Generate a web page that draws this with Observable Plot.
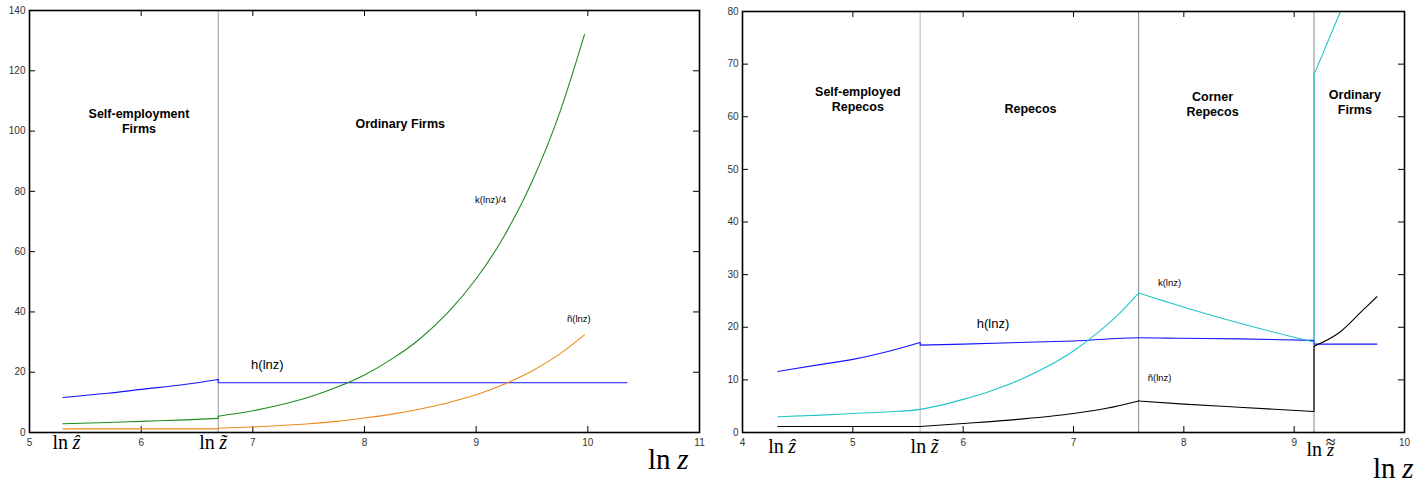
<!DOCTYPE html>
<html><head><meta charset="utf-8">
<script src="https://cdn.jsdelivr.net/npm/d3@7"></script>
<script src="https://cdn.jsdelivr.net/npm/@observablehq/plot@0.6"></script>
<style>
body{margin:0;background:#fff;}
#wrap{position:relative;width:1425px;height:483px;overflow:hidden;background:#fff;}
#left{position:absolute;left:0;top:0;}
#right{position:absolute;left:712px;top:0;}
svg{overflow:visible}
</style></head><body><div id="wrap"><div id="left"></div><div id="right"></div></div>
<script>
// ---------- Left panel data ----------
const leftXTicks = [5, 6, 7, 8, 9, 10, 11];
const leftYTicks = [0, 20, 40, 60, 80, 100, 120, 140];
const leftBoundaries = [6.69];
const leftHx = [5.3, 5.7, 6.0, 6.4, 6.69, 6.69, 10.35];
const leftHy = [11.6, 13.0, 14.3, 16.0, 17.6, 16.5, 16.5];
const leftKx = [5.3, 5.7, 6.0, 6.4, 6.69, 6.69, 7.0, 7.25, 7.5, 7.75, 8.0, 8.25, 8.5, 8.75, 9.0, 9.25, 9.5, 9.75, 9.97];
const leftKy = [2.9, 3.3, 3.7, 4.2, 4.7, 5.4, 7.2, 9.2, 11.7, 15.0, 19.1, 24.5, 31.2, 39.9, 51.0, 65.1, 83.2, 106.3, 132];
const leftNx = [5.3, 5.7, 6.0, 6.4, 6.69, 6.69, 7.0, 7.25, 7.5, 7.75, 8.0, 8.25, 8.5, 8.75, 9.0, 9.25, 9.5, 9.75, 9.97];
const leftNy = [1.2, 1.2, 1.2, 1.2, 1.2, 1.4, 1.8, 2.3, 2.9, 3.7, 4.8, 6.1, 7.8, 9.9, 12.5, 16.0, 20.4, 26.1, 32.4];
const leftRegions = [
  {x: 5.98, y: 103.3, label: "Self-employment\nFirms"},
  {x: 8.32, y: 102.5, label: "Ordinary Firms"}
];
const leftCurveBig = [{x: 7.13, y: 22.5, label: "h(lnz)"}];
const leftCurveSmall = [{x: 9.13, y: 77, label: "k(lnz)/4"}, {x: 9.92, y: 37.8, label: "ñ(lnz)"}];
const leftMarkers = [{x: 5.3, sym: "ẑ", stacked: false}, {x: 6.69, sym: "z\u0303", stacked: false}];

// ---------- Right panel data ----------
const rightXTicks = [4, 5, 6, 7, 8, 9, 10];
const rightYTicks = [0, 10, 20, 30, 40, 50, 60, 70, 80];
const rightBoundaries = [5.61, 7.59, 9.18];
const rightHx = [4.32, 4.7, 5.0, 5.3, 5.61, 5.61, 6.0, 6.5, 7.0, 7.59, 8.0, 8.5, 9.18, 9.18, 9.75];
const rightHy = [11.6, 12.9, 13.9, 15.3, 17.1, 16.6, 16.8, 17.1, 17.4, 18.0, 17.9, 17.8, 17.5, 16.8, 16.8];
const rightKx = [4.32, 4.7, 5.0, 5.3, 5.61, 5.8, 6.0, 6.25, 6.5, 6.75, 7.0, 7.25, 7.4, 7.59, 7.59, 8.0, 8.5, 9.0, 9.18, 9.18, 9.3, 9.42, 9.5];
const rightKy = [3.0, 3.3, 3.6, 3.9, 4.4, 5.2, 6.3, 7.9, 9.9, 12.4, 15.5, 19.5, 22.3, 26.5, 26.5, 23.8, 20.8, 18.1, 17.2, 68, 74, 80, 84];
const rightNx = [4.32, 5.0, 5.61, 5.61, 6.0, 6.5, 7.0, 7.3, 7.59, 7.59, 8.0, 8.5, 9.18, 9.18, 9.41, 9.62, 9.75];
const rightNy = [1.14, 1.14, 1.14, 1.14, 1.7, 2.5, 3.6, 4.6, 6.0, 6.0, 5.4, 4.8, 4.0, 16.4, 19.0, 23.2, 25.8];
const rightRegions = [
  {x: 5.045, y: 63.4, label: "Self-employed\nRepecos"},
  {x: 6.61, y: 61.7, label: "Repecos"},
  {x: 8.26, y: 62.5, label: "Corner\nRepecos"},
  {x: 9.55, y: 62.85, label: "Ordinary\nFirms"}
];
const rightCurveBig = [{x: 6.27, y: 20.6, label: "h(lnz)"}];
const rightCurveSmall = [{x: 7.87, y: 28.4, label: "k(lnz)"}, {x: 7.78, y: 10.3, label: "ñ(lnz)"}];
const rightMarkers = [{x: 4.32, sym: "ẑ", stacked: false}, {x: 5.61, sym: "z\u0303", stacked: false}, {x: 9.18, sym: "≈\nz", stacked: true}];

const SANS = "Liberation Sans, Arial, Helvetica, sans-serif";
const SERIF = "Liberation Serif, Times New Roman, serif";

// split a series into smooth segments at repeated x (kinks / jumps)
function segments(xs, ys) {
  const segs = [], jumps = [];
  let cur = [{x: xs[0], y: ys[0]}];
  for (let i = 1; i < xs.length; i++) {
    if (xs[i] === xs[i - 1]) {
      segs.push(cur);
      if (ys[i] !== ys[i - 1]) jumps.push({x: xs[i], y1: ys[i - 1], y2: ys[i]});
      cur = [];
    }
    cur.push({x: xs[i], y: ys[i]});
  }
  segs.push(cur);
  const rows = segs.flatMap((s, k) => s.map(p => ({...p, seg: k})));
  return {rows, jumps};
}

function panel(cfg) {
  const innerW = cfg.width - cfg.ml - cfg.mr;
  const innerH = 483 - cfg.mt - cfg.mb;
  const T = 6;
  const marks = [
    ...cfg.boundaries.map((b, i) => Plot.ruleX([b], {stroke: cfg.ruleColors[i], strokeWidth: 1})),
    Plot.ruleX(cfg.xTicks, {x: d => d, insetTop: innerH - T, stroke: "#000"}),
    Plot.ruleX(cfg.xTicks, {x: d => d, insetBottom: innerH - T, stroke: "#000"}),
    Plot.ruleY(cfg.yTicks, {y: d => d, insetRight: innerW - T, stroke: "#000"}),
    Plot.ruleY(cfg.yTicks, {y: d => d, insetLeft: innerW - T, stroke: "#000"}),
    Plot.axisX(cfg.xTicks, {tickSize: 0, tickPadding: 6, fontSize: 10, fill: "#333", fontFamily: SANS}),
    Plot.axisY(cfg.yTicks, {tickSize: 0, tickPadding: 4, fontSize: 10, fill: "#333", fontFamily: SANS}),
    ...cfg.series.flatMap(s => {
      const {rows, jumps} = segments(s.xs, s.ys);
      return [
        Plot.ruleX(jumps, {x: "x", y1: "y1", y2: "y2", stroke: s.color, strokeWidth: 1.1, clip: true}),
        Plot.line(rows, {x: "x", y: "y", z: "seg", stroke: s.color, strokeWidth: 1.1, curve: "monotone-x", clip: true})
      ];
    }),
    Plot.frame({stroke: "#000", strokeWidth: 1.6}),
    Plot.text(cfg.regions, {x: "x", y: "y", text: "label", fontWeight: "bold", fontSize: 12.5, lineHeight: 1.2, fill: "#000", fontFamily: SANS}),
    Plot.text(cfg.curveBig, {x: "x", y: "y", text: "label", fontSize: 13, fill: "#000", fontFamily: SANS}),
    Plot.text(cfg.curveSmall, {x: "x", y: "y", text: "label", fontSize: 9.5, fill: "#000", fontFamily: SANS}),
    ...cfg.markers.flatMap((m, i) => [
      Plot.text([m], {x: "x", text: () => "ln", frameAnchor: "bottom", textAnchor: "end", lineAnchor: "bottom", dx: cfg.markerDx[i], dy: cfg.markerDy[i], fontFamily: SERIF, fontSize: 20, fill: "#000"}),
      m.stacked
        ? Plot.text([m], {x: "x", text: "sym", frameAnchor: "bottom", textAnchor: "middle", lineAnchor: "bottom", lineHeight: 0.4, dx: cfg.markerDx[i] + 8.5, dy: cfg.markerDy[i], fontFamily: SERIF, fontStyle: "italic", fontSize: 18, fill: "#000"})
        : Plot.text([m], {x: "x", text: "sym", frameAnchor: "bottom", textAnchor: "start", lineAnchor: "bottom", dx: cfg.markerDx[i] + 4.5, dy: cfg.markerDy[i], fontFamily: SERIF, fontStyle: "italic", fontSize: 20, fill: "#000"})
    ]),
    Plot.text(["z"], {frameAnchor: "bottom-right", text: d => d, textAnchor: "end", lineAnchor: "bottom", dx: cfg.lnzDx, dy: cfg.lnzDy, fontFamily: SERIF, fontStyle: "italic", fontSize: 29, fill: "#000"}),
    Plot.text(["ln"], {frameAnchor: "bottom-right", text: d => d, textAnchor: "end", lineAnchor: "bottom", dx: cfg.lnzDx - 18, dy: cfg.lnzDy, fontFamily: SERIF, fontSize: 29, fill: "#000"})
  ];
  return Plot.plot({
    width: cfg.width, height: 483,
    marginLeft: cfg.ml, marginRight: cfg.mr, marginTop: cfg.mt, marginBottom: cfg.mb,
    x: {domain: cfg.xDomain, label: null},
    y: {domain: cfg.yDomain, label: null},
    style: {fontFamily: SANS, background: "transparent", overflow: "visible"},
    marks
  });
}

document.getElementById("left").append(panel({
  width: 712, ml: 29, mr: 13, mt: 10, mb: 51,
  xDomain: [5, 11], yDomain: [0, 140],
  xTicks: leftXTicks, yTicks: leftYTicks,
  boundaries: leftBoundaries, ruleColors: ["#999"],
  series: [
    {xs: leftHx, ys: leftHy, color: "#1414ff"},
    {xs: leftKx, ys: leftKy, color: "#1f8c1f"},
    {xs: leftNx, ys: leftNy, color: "#ee8a1c"}
  ],
  regions: leftRegions, curveBig: leftCurveBig, curveSmall: leftCurveSmall,
  markers: leftMarkers, markerDx: [5, -3.5], markerDy: [16, 16],
  lnzDx: -11, lnzDy: 36
}));

document.getElementById("right").append(panel({
  width: 713, ml: 30, mr: 21, mt: 11, mb: 51,
  xDomain: [4, 10], yDomain: [0, 80],
  xTicks: rightXTicks, yTicks: rightYTicks,
  boundaries: rightBoundaries, ruleColors: ["#b4b4b4", "#888", "#888"],
  series: [
    {xs: rightHx, ys: rightHy, color: "#1414ff"},
    {xs: rightKx, ys: rightKy, color: "#22c4c8"},
    {xs: rightNx, ys: rightNy, color: "#000"}
  ],
  regions: rightRegions, curveBig: rightCurveBig, curveSmall: rightCurveSmall,
  markers: rightMarkers, markerDx: [6, 6, 8], markerDy: [20, 20, 23],
  lnzDx: 9, lnzDy: 45
}));
</script>
</body></html>
